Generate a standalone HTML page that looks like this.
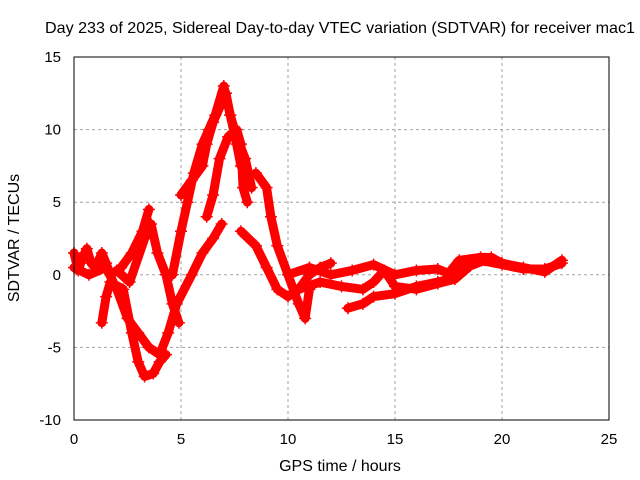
<!DOCTYPE html>
<html><head><meta charset="utf-8"><style>
body{margin:0;background:#fff;}
svg{display:block;font-family:"Liberation Sans",sans-serif;}
</style></head><body>
<svg id="chart" width="640" height="480" viewBox="0 0 640 480">
<rect width="640" height="480" fill="#fff"/>
<text x="340" y="33" font-size="16" text-anchor="middle" textLength="590" lengthAdjust="spacingAndGlyphs">Day 233 of 2025, Sidereal Day-to-day VTEC variation (SDTVAR) for receiver mac1</text>
<g id="grid"></g>
<g id="series"></g>
<rect x="74" y="57" width="535" height="363" fill="none" stroke="#000" stroke-width="1"/>
<g id="ticks"></g>
<text x="340" y="471" font-size="16" text-anchor="middle">GPS time / hours</text>
<text transform="translate(19,238) rotate(-90)" font-size="16" text-anchor="middle">SDTVAR / TECUs</text>
</svg>
<script>
const xTicks=[0,5,10,15,20,25];
const yTicks=[-10,-5,0,5,10,15];
const traceA_x=[0,0.2,0.4,0.6,0.8,1,1.3,1.5,1.7,2.2,2.7,3.2,3.5];
const traceA_y=[1.5,0.3,1.2,1.8,0.8,0.5,1.5,0.8,0,0.5,1.5,3,4.5];
const traceB_x=[0,0.7,1.5,2,2.5,3,3.5,4,4.4,4.8,5.5,6,6.5,6.9];
const traceB_y=[0.5,0,0.5,-1,-3,-4,-5,-5.5,-4,-2,0,1.5,2.5,3.5];
const traceC_x=[1.3,1.5,1.7,2.3,2.7,3,3.3,3.7,4,4.3];
const traceC_y=[-3.3,-1.5,-0.5,-1,-4,-6,-7,-6.8,-6,-5.5];
const traceD_x=[2,2.6,3.3,3.6,3.9,4.3,4.6,4.9];
const traceD_y=[0.3,-0.5,2.5,3.5,1.5,0,-2,-3.3];
const traceE_x=[4.6,5,5.3,5.6,6,6.3,6.6,7,7.3,7.6,8,8.3];
const traceE_y=[0,3,5,7,9,10,11,13,11,9.5,8,6];
const traceF_x=[5,5.5,6,6.2,6.5,6.8,7.1,7.3,7.6,7.8];
const traceF_y=[5.5,6.5,7.5,9,10.5,11.5,12.5,11,9,7.5];
const traceG_x=[6.2,6.5,6.8,7.2,7.6,7.8,7.9,8.1];
const traceG_y=[4,5.5,8,9.5,10,9,6,5];
const traceH_x=[8.5,9,9.2,9.5,10,10.5,10.8,11];
const traceH_y=[7,6,4,2,0,-2,-3,-1];
const traceI_x=[7.8,8.5,9,9.5,10,10.5,11,11.5,12];
const traceI_y=[3,2,0.5,-1,-1.5,-1,0,0.5,0.8];
const traceJ_x=[12.8,13.5,14,15,16,17,17.5,18,19,20,21,22,22.8];
const traceJ_y=[-2.3,-2,-1.5,-1.3,-0.8,-0.5,-0.3,0.3,1,0.7,0.4,0.4,0.8];
const traceK_x=[10,11,12,13,14,15,16,17,17.5,18,19,19.5,20,21,22,22.8];
const traceK_y=[0,0.5,0,0.3,0.7,0,0.3,0.4,0.1,1,1.2,1.2,0.8,0.5,0.2,1];
const traceL_x=[10.5,11.5,12.5,13.5,14,14.5,15,16,17,17.8,18.5,19.2];
const traceL_y=[-1,-0.5,-0.8,-1,-0.5,0.3,-0.8,-1,-0.6,-0.3,0.6,1];
const traces=[[traceA_x,traceA_y],[traceB_x,traceB_y],[traceC_x,traceC_y],[traceD_x,traceD_y],[traceE_x,traceE_y],[traceF_x,traceF_y],[traceG_x,traceG_y],[traceH_x,traceH_y],[traceI_x,traceI_y],[traceJ_x,traceJ_y],[traceK_x,traceK_y],[traceL_x,traceL_y]];
const NS='http://www.w3.org/2000/svg';
function xs(v){return 74+(v-0)*535/25;}
function ys(v){return 420-(v+10)*363/25;}
const grid=document.getElementById('grid'),ticks=document.getElementById('ticks'),series=document.getElementById('series');
function mk(t,a,p){const e=document.createElementNS(NS,t);for(const k in a)e.setAttribute(k,a[k]);p.appendChild(e);return e;}
xTicks.forEach(t=>{
  const x=xs(t);
  if(t>0&&t<25){const g=mk('line',{x1:x,x2:x,y1:57,y2:420,stroke:'#a0a0a0','stroke-dasharray':'3,3'},grid);
  
  }
  const l=mk('text',{x:x,y:444,'font-size':15,'text-anchor':'middle'},ticks);l.textContent=t;
  
  
});
yTicks.forEach(t=>{
  const y=ys(t);
  if(t>-10&&t<15){const g=mk('line',{x1:74,x2:609,y1:y,y2:y,stroke:'#a0a0a0','stroke-dasharray':'3,3'},grid);
  
  }
  const l=mk('text',{x:61,y:y+5,'font-size':15,'text-anchor':'end'},ticks);l.textContent=t;
  
  
});
traces.forEach(([tx,ty])=>{
  const pts=tx.map((v,i)=>xs(v)+','+ys(ty[i])).join(' ');
  const pl=mk('polyline',{points:pts,fill:'none',stroke:'#ff0000','stroke-width':9,'stroke-linejoin':'round','stroke-linecap':'round'},series);
  
  
  tx.forEach((v,i)=>{
    const x=xs(v),y=ys(ty[i]);
    const m=mk('path',{d:`M${x-6},${y}H${x+6}M${x},${y-6}V${y+6}`,stroke:'#ff0000','stroke-width':1.5},series);
    
    
  });
});
</script>
</body></html>
